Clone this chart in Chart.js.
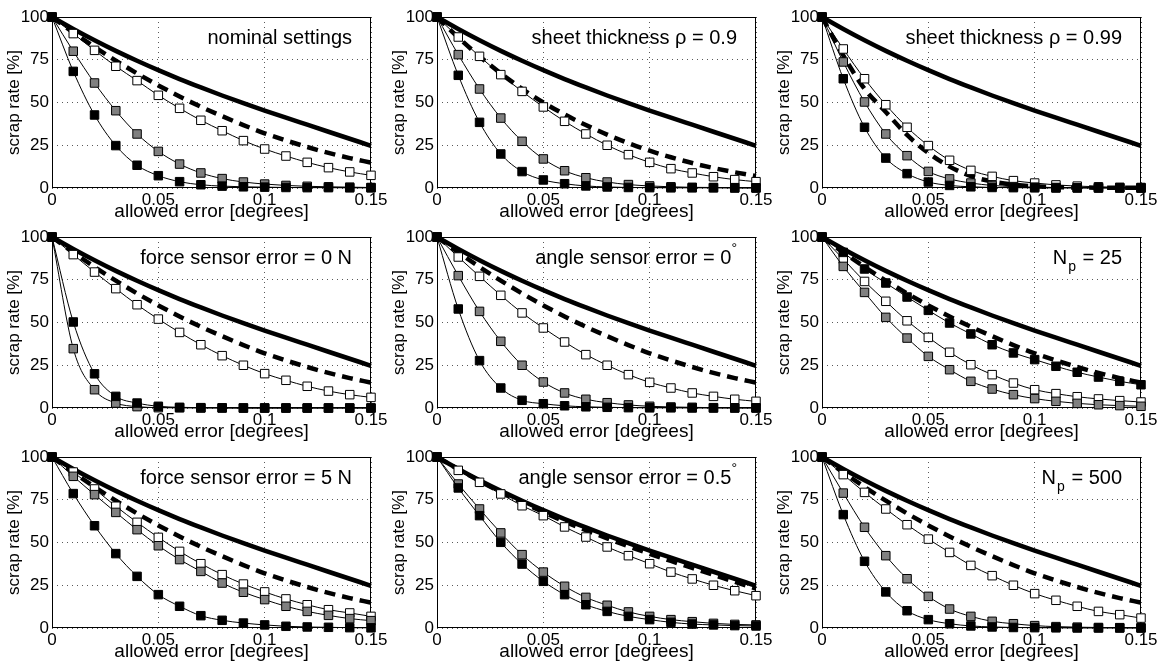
<!DOCTYPE html>
<html>
<head>
<meta charset="utf-8">
<script src="https://cdn.jsdelivr.net/npm/chart.js@4.4.0/dist/chart.umd.min.js"></script>
<style>
  body { margin: 0; background: #fff; width: 1163px; height: 666px; overflow: hidden; position: relative; }
  .panel { position: absolute; width: 387px; height: 227px; }
</style>
</head>
<body>
<div id="wrap"></div>
<script>
// valori comuni
const xValues = [0, 0.01, 0.02, 0.03, 0.04, 0.05, 0.06, 0.07, 0.08, 0.09, 0.1, 0.11, 0.12, 0.13, 0.14, 0.15];
const xTicks = [0, 0.05, 0.1, 0.15];
const xTickLabels = ['0', '0.05', '0.1', '0.15'];
const yTicks = [0, 25, 50, 75, 100];
const yTickLabels = ['0', '25', '50', '75', '100'];

const panelTitles = [
  'nominal settings', 'sheet thickness \u03c1 = 0.9', 'sheet thickness \u03c1 = 0.99',
  'force sensor error = 0 N', 'angle sensor error = 0^\u00b0', 'N_p = 25',
  'force sensor error = 5 N', 'angle sensor error = 0.5^\u00b0', 'N_p = 500'
];

// linea continua di riferimento (uguale in tutti i grafici)
const solidRef = [100, 93, 86.4, 80.2, 74.4, 68.9, 63.7, 58.8, 54.1, 49.6, 45.3, 41.1, 37, 32.9, 28.8, 24.7];
const dashedNominal = [100, 91, 82.5, 74.5, 67, 60, 53.5, 47.5, 42, 36.8, 32, 27.8, 24, 20.5, 17.5, 14.8];
const dashedRho09 = [100, 88, 77, 67, 58, 50, 43, 36.8, 31.2, 26.2, 21.8, 18, 14.6, 11.7, 9.2, 7];
const dashedRho099 = [100, 77.5, 58, 44.5, 31, 20.5, 12.5, 7, 3.8, 2, 1, 0.5, 0.3, 0.2, 0.1, 0.1];
const dashedAngle05 = [100, 92.8, 86, 79.5, 73.5, 67.8, 62.3, 57.2, 52.4, 47.8, 43.4, 39.2, 35.1, 31.1, 27, 23];

// nominal settings
const nominalWhite = [100, 90.3, 80.5, 71.2, 62.8, 54.2, 46.6, 39.6, 33.5, 27.7, 22.8, 18.7, 15, 11.9, 9.4, 7.4];
const nominalGray = [100, 80, 61.4, 45.2, 31.6, 21.4, 14, 8.8, 5.5, 3.5, 2.3, 1.5, 1, 0.7, 0.5, 0.3];
const nominalBlack = [100, 68.2, 42.7, 24.8, 13.3, 7.2, 3.7, 1.9, 1.1, 0.7, 0.5, 0.3, 0.2, 0.2, 0.1, 0.1];
// rho = 0.9
const rho09White = [100, 88.3, 77, 66.3, 56.5, 47.4, 39, 31.6, 25, 19.5, 15, 11.3, 8.8, 6.6, 4.9, 3.7];
const rho09Gray = [100, 78, 57.9, 40.9, 27.3, 17, 10.1, 6, 3.5, 2, 1.2, 0.7, 0.4, 0.3, 0.2, 0.1];
const rho09Black = [100, 65.9, 38.4, 19.9, 9.6, 4.7, 2.5, 1.2, 0.6, 0.3, 0.2, 0.1, 0.1, 0.1, 0, 0];
// rho = 0.99
const rho099White = [100, 81.3, 63.9, 48.7, 35.5, 24.8, 16.2, 10.3, 6.8, 4.3, 2.9, 1.8, 1.1, 0.7, 0.4, 0.3];
const rho099Gray = [100, 73.7, 50.3, 31.6, 18.9, 9.7, 5.3, 2.9, 1.5, 0.8, 0.5, 0.3, 0.2, 0.1, 0.1, 0];
const rho099Black = [100, 63.9, 35.5, 17.5, 8.4, 3.5, 1.5, 0.7, 0.3, 0.2, 0.1, 0, 0, 0, 0, 0];
// force sensor error = 0 N
const force0White = [100, 89.7, 79.5, 69.8, 60.4, 52, 44.2, 37, 30.6, 25, 20.1, 16.2, 12.7, 9.9, 7.8, 6.2];
const force0Gray = [100, 34.7, 10.7, 2.9, 0.8, 0.2, 0.1, 0, 0, 0, 0, 0, 0, 0, 0, 0];
const force0Black = [100, 50.3, 20, 6.8, 2.9, 1, 0.4, 0.2, 0.1, 0, 0, 0, 0, 0, 0, 0];
// angle sensor error = 0
const angle0White = [100, 88.3, 77, 65.9, 55.6, 46.8, 38.6, 31.2, 25, 19.5, 15, 11.7, 8.8, 6.8, 5.1, 3.9];
const angle0Gray = [100, 77.4, 56.5, 39, 25, 15.2, 8.8, 5.1, 3.1, 1.8, 1, 0.6, 0.4, 0.2, 0.1, 0.1];
const angle0Black = [100, 57.9, 27.7, 11.7, 4.5, 2.5, 1.3, 0.7, 0.4, 0.2, 0.1, 0.1, 0, 0, 0, 0];
// Np = 25
const np25White = [100, 87.1, 74, 62.4, 51, 41.3, 32.6, 25.3, 19.5, 14.6, 10.7, 8.4, 6.6, 5.3, 4.3, 3.5];
const np25Gray = [100, 82.8, 67.6, 53, 40.9, 30.2, 22.4, 15.6, 11.1, 7.8, 5.5, 3.9, 2.7, 1.9, 1.4, 1];
const np25Black = [100, 91, 81.3, 73.1, 64.9, 57.1, 49.7, 43.3, 37, 32.2, 28.3, 24.4, 20.9, 18.1, 15.6, 13.6];
// force sensor error = 5 N
const force5White = [100, 91.2, 81.3, 71.2, 61.8, 53, 44.8, 37.6, 31.2, 25.7, 21.1, 17, 13.6, 10.7, 8.8, 6.8];
const force5Gray = [100, 88.7, 78, 67.6, 57.5, 48.1, 40, 33.1, 26.3, 20.9, 16.6, 12.7, 9.7, 7.4, 5.5, 4.3];
const force5Black = [100, 78.6, 59.8, 43.5, 30.2, 19.5, 12.7, 7.2, 4.5, 2.9, 1.8, 1, 0.6, 0.4, 0.2, 0.1];
// angle sensor error = 0.5
const angle05White = [100, 92.2, 85.2, 78.4, 71.5, 65.7, 59.1, 53.2, 47.4, 42.3, 37.6, 32.7, 28.7, 25, 21.8, 18.9];
const angle05Gray = [100, 84.2, 69.6, 55.6, 42.9, 32.7, 24.4, 17.9, 13.3, 9.4, 6.8, 4.9, 3.7, 2.7, 2.1, 1.8];
const angle05Black = [100, 81.9, 65.7, 50.1, 37.4, 27.3, 19.5, 13.6, 9.7, 6.8, 4.9, 3.3, 2.3, 1.8, 1.4, 1.2];
// Np = 500
const np500White = [100, 89.7, 79.3, 69.6, 60.4, 52, 44.2, 36.6, 30.6, 25, 20.1, 16.2, 12.7, 9.7, 7.8, 5.8];
const np500Gray = [100, 78.9, 58.9, 42.3, 28.8, 18.5, 11.1, 6.8, 3.9, 2.5, 1.4, 0.8, 0.5, 0.3, 0.2, 0.1];
const np500Black = [100, 66.3, 39, 21.1, 10.1, 4.9, 2.5, 1.2, 0.6, 0.3, 0.2, 0.1, 0, 0, 0, 0];

const panels = [
  [dashedNominal, nominalWhite, nominalGray, nominalBlack],
  [dashedRho09, rho09White, rho09Gray, rho09Black],
  [dashedRho099, rho099White, rho099Gray, rho099Black],
  [dashedNominal, force0White, force0Gray, force0Black],
  [dashedNominal, angle0White, angle0Gray, angle0Black],
  [dashedNominal, np25White, np25Gray, np25Black],
  [dashedNominal, force5White, force5Gray, force5Black],
  [dashedAngle05, angle05White, angle05Gray, angle05Black],
  [dashedNominal, np500White, np500Gray, np500Black]
];

const FONT = "'Liberation Sans', Arial, Helvetica, sans-serif";
const plotLefts = [52, 437, 822];
const plotTops = [17, 237, 457];

const toPts = arr => arr.map((y, i) => ({ x: xValues[i], y: y }));

/* testo con pedici / apici: N_p  e  0^° */
function drawRich(ctx, text, right, midY, size) {
  const segs = [];
  let i = 0, buf = '';
  while (i < text.length) {
    const c = text[i];
    if ((c === '_' || c === '^') && i + 1 < text.length) {
      if (buf) segs.push({ t: buf, k: 'n' });
      buf = '';
      segs.push({ t: text[i + 1], k: c === '_' ? 'sub' : 'sup' });
      i += 2;
    } else { buf += c; i++; }
  }
  if (buf) segs.push({ t: buf, k: 'n' });
  const small = Math.round(size * 0.7);
  let total = 0;
  segs.forEach(s => {
    ctx.font = (s.k === 'n' ? size : small) + 'px ' + FONT;
    s.w = ctx.measureText(s.t).width + (s.k === 'sub' ? 2 : 0);
    total += s.w;
  });
  let x = right - total;
  ctx.textAlign = 'left';
  ctx.textBaseline = 'middle';
  ctx.fillStyle = '#000';
  segs.forEach(s => {
    let y = midY;
    if (s.k === 'sub') y += size * 0.45;
    if (s.k === 'sup') y -= size * 0.45;
    ctx.font = (s.k === 'n' ? size : small) + 'px ' + FONT;
    ctx.fillText(s.t, x + (s.k === 'sub' ? 1 : 0), y);
    x += s.w;
  });
}

function makeFrame(title) {
  return {
    id: 'frame',
    beforeDatasetsDraw(chart) {
      const a = chart.chartArea;
      const ctx = chart.ctx;
      ctx.save();
      ctx.strokeStyle = '#000';
      ctx.lineWidth = 1;
      ctx.strokeRect(a.left + 0.5, a.top + 0.5, a.right - a.left - 1, a.bottom - a.top - 1);
      ctx.restore();
    },
    afterDraw(chart) {
      const a = chart.chartArea;
      const ctx = chart.ctx;
      ctx.save();
      ctx.fillStyle = '#000';
      ctx.textAlign = 'center';
      ctx.textBaseline = 'middle';
      ctx.font = '19px ' + FONT;
      ctx.fillText('allowed error [degrees]', (a.left + a.right) / 2, a.bottom + 24);
      ctx.translate(a.left - 38, (a.top + a.bottom) / 2);
      ctx.rotate(-Math.PI / 2);
      ctx.font = '17px ' + FONT;
      ctx.fillText('scrap rate [%]', 0, 0);
      ctx.restore();
      ctx.save();
      drawRich(ctx, title, a.right - 19, a.top + 21, 20);
      ctx.restore();
    }
  };
}

const wrap = document.getElementById('wrap');

panels.forEach((p, idx) => {
  const col = idx % 3, row = Math.floor(idx / 3);
  const div = document.createElement('div');
  div.className = 'panel';
  div.style.left = (plotLefts[col] - 52) + 'px';
  div.style.top = (plotTops[row] - 10) + 'px';
  const cv = document.createElement('canvas');
  div.appendChild(cv);
  wrap.appendChild(div);

  const [dashed, white, gray, black] = p;
  const marker = (data, fill) => ({
    data: toPts(data),
    borderColor: '#000',
    borderWidth: 1,
    pointStyle: 'rect',
    pointRadius: 6,
    pointBackgroundColor: fill,
    pointBorderColor: '#000',
    pointBorderWidth: 1,
    cubicInterpolationMode: 'monotone',
    clip: false
  });

  new Chart(cv, {
    type: 'line',
    data: {
      datasets: [
        marker(black, '#000'),
        marker(gray, '#808080'),
        marker(white, '#fff'),
        {
          data: toPts(dashed), borderColor: '#000', borderWidth: 4.5, borderDash: [11, 7],
          pointRadius: 0, cubicInterpolationMode: 'monotone', clip: false
        },
        {
          data: toPts(solidRef), borderColor: '#000', borderWidth: 4.5,
          pointRadius: 0, cubicInterpolationMode: 'monotone', clip: false
        }
      ]
    },
    options: {
      responsive: true,
      maintainAspectRatio: false,
      animation: false,
      events: [],
      layout: { padding: { top: 10, right: 16, left: 0, bottom: 0 } },
      plugins: { legend: { display: false }, tooltip: { enabled: false } },
      scales: {
        x: {
          type: 'linear', min: 0, max: 0.15,
          afterBuildTicks: s => { s.ticks = xTicks.map(v => ({ value: v })); },
          afterFit: s => { s.height = 46; s.paddingLeft = 0; s.paddingRight = 0; },
          ticks: {
            callback: (v, i) => xTickLabels[i], color: '#000', padding: 2,
            maxRotation: 0, autoSkip: false, font: { size: 17, family: FONT }
          },
          grid: { color: 'rgba(0,0,0,0.65)', lineWidth: 1, drawTicks: false },
          border: { display: false, dash: [1, 4] }
        },
        y: {
          min: 0, max: 100,
          afterBuildTicks: s => { s.ticks = yTicks.map(v => ({ value: v })); },
          afterFit: s => { s.width = 52; s.paddingTop = 0; s.paddingBottom = 0; },
          ticks: {
            callback: (v, i) => yTickLabels[i], color: '#000', padding: 3,
            font: { size: 17, family: FONT }
          },
          grid: { color: 'rgba(0,0,0,0.65)', lineWidth: 1, drawTicks: false },
          border: { display: false, dash: [1, 4] }
        }
      }
    },
    plugins: [makeFrame(panelTitles[idx])]
  });
});
</script>
</body>
</html>
